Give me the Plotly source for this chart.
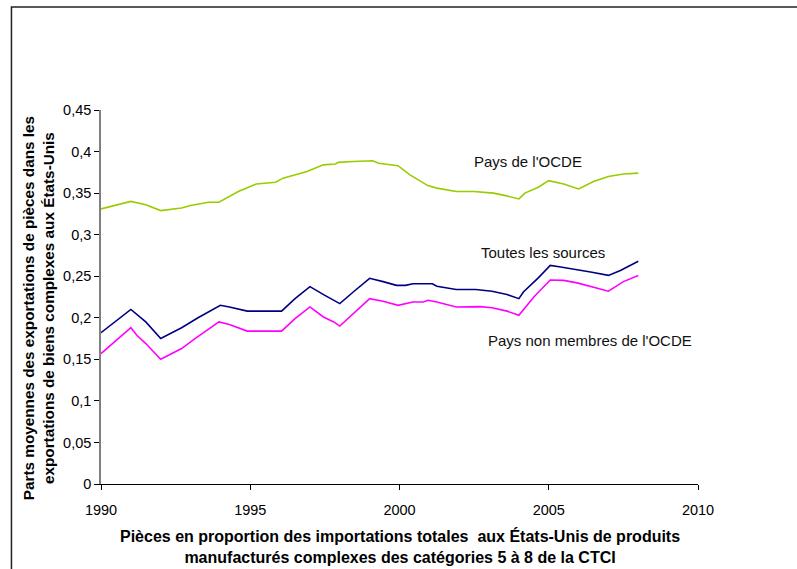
import plotly.graph_objects as go

# ---- data ----
oecd_years = [1990.0, 1991.0, 1991.5, 1992.0, 1992.7, 1993.0, 1993.6, 1993.95, 1994.6, 1995.0,
              1995.2, 1995.85, 1996.1, 1996.9, 1997.45, 1997.85, 1997.95, 1998.45, 1999.1, 1999.3,
              1999.95, 2000.35, 2000.95, 2001.25, 2001.9, 2002.5, 2003.15, 2003.55, 2004.0, 2004.2,
              2004.65, 2005.0, 2005.5, 2006.0, 2006.5, 2007.0, 2007.5, 2008.0]
oecd_vals = [0.331, 0.340, 0.336, 0.329, 0.332, 0.335, 0.339, 0.339, 0.352, 0.358,
             0.361, 0.363, 0.368, 0.376, 0.384, 0.385, 0.387, 0.388, 0.389, 0.386,
             0.383, 0.372, 0.359, 0.356, 0.352, 0.352, 0.350, 0.347, 0.343, 0.350,
             0.357, 0.365, 0.361, 0.355, 0.364, 0.370, 0.373, 0.374]

all_years = [1990.0, 1990.5, 1991.0, 1991.5, 1992.0, 1992.7, 1993.25, 1994.0, 1994.3, 1994.9,
             1996.05, 1996.5, 1997.0, 1997.5, 1998.0, 1998.45, 1999.0, 1999.45, 1999.9, 2000.2,
             2000.45, 2001.1, 2001.25, 2001.9, 2002.55, 2003.1, 2003.6, 2004.0, 2004.15, 2004.65,
             2005.05, 2005.4, 2005.95, 2006.4, 2007.0, 2007.4, 2008.0]
all_vals = [0.182, 0.196, 0.210, 0.195, 0.175, 0.188, 0.200, 0.215, 0.213, 0.208,
            0.208, 0.223, 0.2375, 0.227, 0.217, 0.231, 0.2475, 0.2435, 0.239, 0.239,
            0.241, 0.241, 0.238, 0.234, 0.234, 0.232, 0.228, 0.223, 0.231, 0.248,
            0.263, 0.261, 0.258, 0.255, 0.251, 0.257, 0.268]

non_years = [1990.0, 1990.5, 1991.0, 1991.2, 1991.5, 1992.0, 1992.7, 1993.15, 1993.95, 1994.3,
             1994.9, 1996.05, 1996.5, 1997.0, 1997.45, 1997.8, 1998.0, 1999.0, 1999.45, 1999.95,
             2000.45, 2000.8, 2000.95, 2001.25, 2001.9, 2002.7, 2003.1, 2003.6, 2004.0, 2004.5,
             2005.05, 2005.5, 2005.95, 2007.0, 2007.5, 2008.0]
non_vals = [0.157, 0.173, 0.188, 0.179, 0.169, 0.150, 0.163, 0.175, 0.195, 0.192,
            0.184, 0.184, 0.199, 0.213, 0.201, 0.195, 0.190, 0.223, 0.220, 0.215,
            0.219, 0.219, 0.221, 0.219, 0.213, 0.2134, 0.212, 0.208, 0.203, 0.225,
            0.2455, 0.245, 0.242, 0.232, 0.2435, 0.251]

series_names = ["Pays de l'OCDE", "Toutes les sources", "Pays non membres de l'OCDE"]
series_colors = ["#99CC00", "#000080", "#FF00FF"]

y_ticks = [0, 0.05, 0.1, 0.15, 0.2, 0.25, 0.3, 0.35, 0.4, 0.45]
x_ticks = [1990, 1995, 2000, 2005, 2010]

x_title = ("<b>Pièces en proportion des importations totales  aux États-Unis de produits<br>"
           "manufacturés complexes des catégories 5 à 8 de la CTCI</b>")
y_title = ("<b>Parts moyennes des exportations de pièces dans les<br>"
           "exportations de biens complexes aux États-Unis</b>")

FONT = "Liberation Sans, Arial, sans-serif"

fig = go.Figure()
for xs, ys, name, col in zip([oecd_years, all_years, non_years],
                             [oecd_vals, all_vals, non_vals],
                             series_names, series_colors):
    fig.add_trace(go.Scatter(x=xs, y=ys, mode="lines", name=name,
                             line=dict(color=col, width=1.6), showlegend=False))

# series labels
label_pos = [(2004.3, 0.3875), (2004.81, 0.279), (2006.38, 0.173)]
for name, (lx, ly) in zip(series_names, label_pos):
    fig.add_annotation(x=lx, y=ly, text=name, showarrow=False, xanchor="center",
                       yanchor="middle",
                       font=dict(family=FONT, size=15, color="#111111"))

# axis titles
fig.add_annotation(xref="paper", yref="paper", x=0.5, y=-0.167,
                   xanchor="center", yanchor="middle",
                   text=x_title, showarrow=False,
                   font=dict(family=FONT, size=16, color="#000000"))
fig.add_annotation(xref="paper", yref="paper", x=-0.1055, y=0.47,
                   xanchor="center", yanchor="middle",
                   text=y_title, showarrow=False, textangle=-90,
                   font=dict(family=FONT, size=15.3, color="#000000"))

# outer frame (extends off the right and bottom)
fig.add_shape(type="rect", xref="paper", yref="paper",
              x0=-0.15, x1=1.5, y0=-0.6, y1=1.2754,
              line=dict(color="#222222", width=1.5), fillcolor="rgba(0,0,0,0)")

fig.update_layout(
    width=797, height=569,
    margin=dict(l=101, r=99, t=110, b=85),
    paper_bgcolor="white", plot_bgcolor="white",
    separators=", ",
    font=dict(family=FONT, size=13, color="#000000"),
    xaxis=dict(range=[1990, 2010], tickvals=x_ticks, ticks="outside", ticklen=5,
               tickcolor="#000000", showline=True, linecolor="#000000", linewidth=1.2,
               showgrid=False, zeroline=False, tickfont=dict(size=14.5),
               ticklabelstandoff=7),
    yaxis=dict(range=[0, 0.45], tickvals=y_ticks, ticks="outside", ticklen=5,
               tickcolor="#000000", showline=True, linecolor="#808080", linewidth=1.5,
               showgrid=False, zeroline=False, tickfont=dict(size=14.5), tickformat="~g"),
)

fig.write_html("out.html")
